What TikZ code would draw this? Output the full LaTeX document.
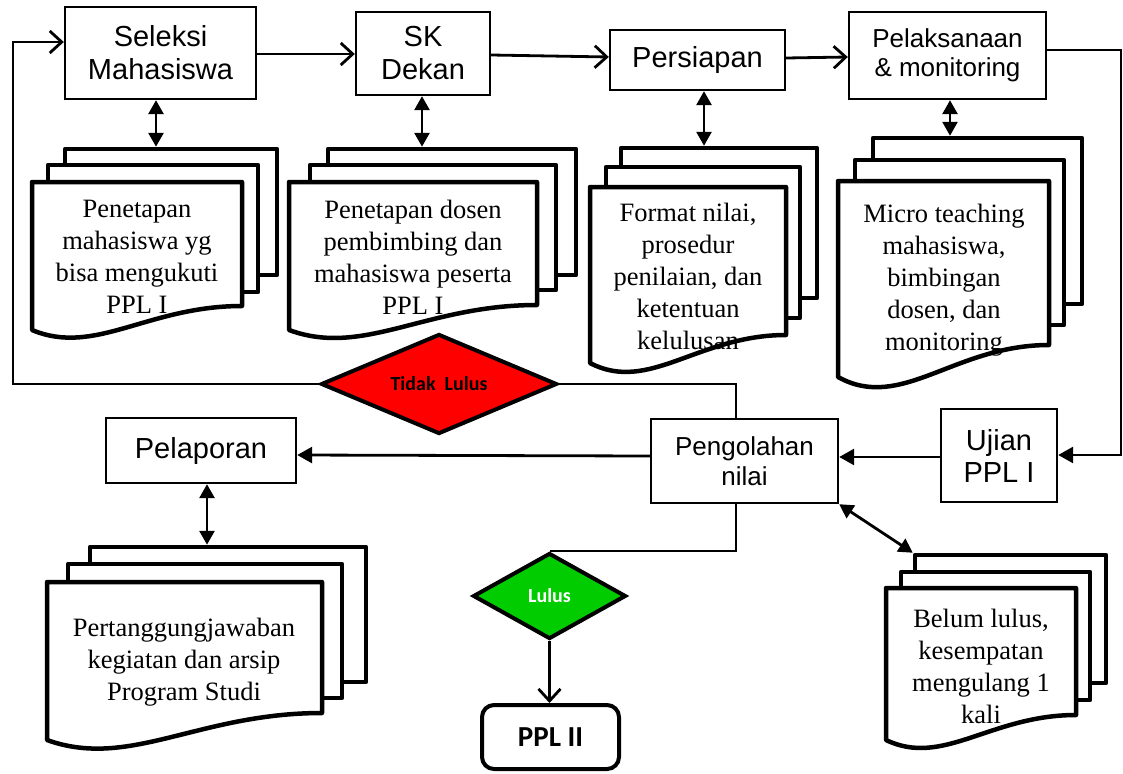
\documentclass[tikz,border=0pt]{standalone}
\usepackage{fontspec}
\setmainfont{Liberation Serif}
\newfontfamily\arialf{Liberation Sans}
\newfontfamily\calibf{Carlito}
\usetikzlibrary{arrows.meta,shapes.geometric}
\definecolor{lulusgreen}{RGB}{0,204,0}

% front sheet of a document stack: left, top, right, bottom-left y, bottom-right y
\newcommand\frontsheet[5]{%
  \path[docsheet] (#1,#2) -- (#3,#2) -- (#3,#5)
    .. controls ({#1+0.55*(#3-#1)},#5) and ({#1+0.3*(#3-#1)},{#4+1.1*(#4-#5)}) .. (#1,#4) -- cycle;}

\begin{document}
\begin{tikzpicture}[x=1pt,y=-1pt,
  box/.style={draw, line width=2.4pt, fill=white, inner sep=0pt, align=center,
    font=\arialf\fontsize{29}{33}\selectfont},
  docsheet/.style={draw, line width=4.5pt, fill=white, line join=round, inner sep=0pt},
  doctext/.style={align=center, inner sep=0pt, font=\fontsize{26.5}{32}\selectfont},
  conn/.style={line width=2.8pt},
  openarr/.style={conn, -{Straight Barb[length=12pt,width=22pt]}},
  fillarr/.style={conn, -{Triangle[length=15pt,width=16pt]}},
  dblarr/.style={conn, {Triangle[length=14pt,width=15pt]}-{Triangle[length=14pt,width=15pt]}},
  decision/.style={diamond, draw, line width=4pt, inner sep=0pt,
    font=\calibf\bfseries\fontsize{20}{24}\selectfont},
]
\useasboundingbox (0,0) rectangle (1123,773);

% ---- document stacks ----
\node[docsheet, minimum width=212pt, minimum height=126pt] (d1b) at (171,212) {};
\node[docsheet, minimum width=210pt, minimum height=127pt] (d1m) at (153,228.5) {};
\frontsheet{32}{182}{242}{330}{306}
\node[doctext] (d1t) at (137,257) {Penetapan\\mahasiswa yg\\bisa mengukuti\\PPL I};

\node[docsheet, minimum width=248pt, minimum height=126pt] (d2b) at (452,212) {};
\node[docsheet, minimum width=246pt, minimum height=125pt] (d2m) at (433,227.5) {};
\frontsheet{289}{182}{537}{330}{305}
\node[doctext] (d2t) at (413,257) {Penetapan dosen\\pembimbing dan\\mahasiswa peserta\\PPL I};

\node[docsheet, minimum width=196pt, minimum height=150pt] (d3b) at (719,223) {};
\node[docsheet, minimum width=194pt, minimum height=151pt] (d3m) at (703,242.5) {};
\frontsheet{590}{187}{786}{363}{335}
\node[doctext] (d3t) at (688,276) {Format nilai,\\prosedur\\penilaian, dan\\ketentuan\\kelulusan};

\node[docsheet, minimum width=209pt, minimum height=166pt] (d4b) at (977.5,221) {};
\node[docsheet, minimum width=209pt, minimum height=165pt] (d4m) at (959.5,242.5) {};
\frontsheet{838}{181}{1049}{377}{345}
\node[doctext] (d4t) at (944,280) {Micro teaching\\mahasiswa,\\bimbingan\\dosen, dan\\monitoring};

\node[docsheet, minimum width=276pt, minimum height=135pt] (d5b) at (228,614.5) {};
\node[docsheet, minimum width=274pt, minimum height=134pt] (d5m) at (205,631) {};
\frontsheet{47}{582}{322}{740}{713}
\node[doctext] (d5t) at (184,662) {Pertanggungjawaban\\kegiatan dan arsip\\Program Studi};

\node[docsheet, minimum width=191pt, minimum height=128pt] (d6b) at (1010.5,619) {};
\node[docsheet, minimum width=189pt, minimum height=128pt] (d6m) at (995.5,636) {};
\frontsheet{886}{588}{1076}{740}{715}
\node[doctext] (d6t) at (981,666) {Belum lulus,\\kesempatan\\mengulang 1\\kali};

% ---- process boxes ----
\node[box, minimum width=191pt, minimum height=92pt] (seleksi) at (160.5,53) {Seleksi\\Mahasiswa};
\node[box, minimum width=134pt, minimum height=83pt] (sk) at (423,53.5) {SK\\Dekan};
\node[box, minimum width=175pt, minimum height=60pt] (persiapan) at (697.5,60) {Persiapan};
\node[box, minimum width=197pt, minimum height=87pt, font=\arialf\fontsize{26}{29}\selectfont]
  (pelaksanaan) at (947.5,55.5) {Pelaksanaan\\\& monitoring};
\node[box, minimum width=187pt, minimum height=84pt, font=\arialf\fontsize{26}{30}\selectfont]
  (pengolahan) at (744.5,461) {Pengolahan\\nilai};
\node[box, minimum width=116pt, minimum height=93pt, font=\arialf\fontsize{29}{32}\selectfont]
  (ujian) at (999,455.5) {Ujian\\PPL I};
\node[box, minimum width=190pt, minimum height=65pt] (pelaporan) at (201,450.5) {Pelaporan};
\node[draw, line width=4pt, rounded corners=12pt, fill=white, inner sep=0pt,
  minimum width=137pt, minimum height=64pt, font=\calibf\bfseries\fontsize{29}{33}\selectfont]
  (ppl2) at (550.5,737) {PPL II};

% ---- decisions ----
\node[decision, fill=red, aspect=2.36, minimum width=236pt, minimum height=100pt]
  (tidak) at (439,384) {Tidak\ \ Lulus};
\node[decision, fill=lulusgreen, text=white, aspect=1.78, minimum width=153pt, minimum height=86pt,
  font=\calibf\bfseries\fontsize{20}{24}\selectfont] (lulus) at (549.5,596) {Lulus};

% ---- flow connectors ----
\draw[openarr] (seleksi.east |- 0,54) -- (sk.west |- 0,54);
\draw[openarr] (sk.east |- 0,55) -- (persiapan.west |- 0,57);
\draw[openarr] (persiapan.east |- 0,58) -- (pelaksanaan.west |- 0,57);
\coordinate (rturn) at (1121,455);
\draw[fillarr] (pelaksanaan.east |- 0,50) -| (rturn) -- (ujian.east |- rturn);
\draw[fillarr] (ujian.west |- 0,457) -- (pengolahan.east |- 0,457);
\draw[fillarr] (pengolahan.west |- 0,456) -- (pelaporan.east |- 0,455);
\coordinate (pgtop) at ([xshift=-8.5pt]pengolahan.north);
\coordinate (pgbot) at ([xshift=-8.5pt]pengolahan.south);
\draw[conn] (pgtop) |- (tidak.east);
\coordinate (lturn) at (13,42);
\draw[openarr] (tidak.west) -| (lturn) -- (seleksi.west |- lturn);
\draw[conn] (pgbot) |- (lulus.north);
\draw[openarr] (lulus.south) -- (lulus.south |- ppl2.north);

% ---- links between steps and their documents ----
\coordinate (a1) at ([xshift=-4.5pt]seleksi.south);
\coordinate (a2) at ([xshift=-1pt]sk.south);
\coordinate (a3) at ([xshift=6.5pt]persiapan.south);
\coordinate (a4) at ([xshift=2.5pt]pelaksanaan.south);
\coordinate (a5) at ([xshift=6pt]pelaporan.south);
\draw[dblarr] (a1) -- (a1 |- d1b.north);
\draw[dblarr] (a2) -- (a2 |- d2b.north);
\draw[dblarr] (a3) -- (a3 |- d3b.north);
\draw[dblarr] (a4) -- (a4 |- d4b.north);
\draw[dblarr] (a5) -- (a5 |- d5b.north);
\draw[dblarr] (pengolahan.south east) -- (d6b.north west);
\end{tikzpicture}
\end{document}
